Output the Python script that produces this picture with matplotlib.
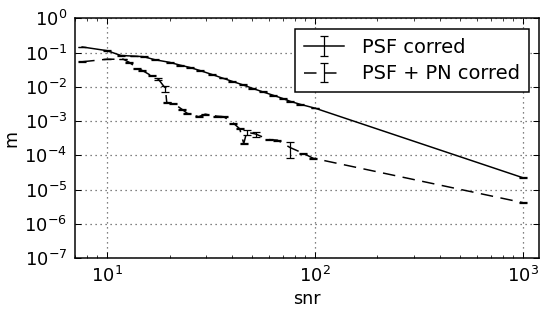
import numpy as np
import matplotlib
matplotlib.use('Agg')
import matplotlib.pyplot as plt

# values (log-log)
snr_psf = [7.6, 10, 11.7, 13.5, 15, 17, 20, 22.5, 25, 28, 32, 36, 40, 45, 50,
           56, 63, 70, 76, 85, 100, 1000]
m_psf = [0.146, 0.114, 0.082, 0.079, 0.076, 0.062, 0.052, 0.043, 0.037, 0.030,
         0.023, 0.018, 0.0145, 0.0115, 0.0091, 0.0072, 0.0057, 0.0046, 0.0038,
         0.0031, 0.0024, 2.24e-5]
err_psf = [0.003, 0.002, 0.002, 0.002, 0.002, 0.0015, 0.0012, 0.001, 0.0008, 0.0007,
           0.0005, 0.0004, 0.0003, 0.0003, 0.0004, 0.0002, 0.00015, 0.0001, 0.00015,
           0.00008, 0.00006, 0.7e-6]

snr_pn = [7.6, 10, 12, 12.8, 14, 14.8, 16.4, 17.7, 19.1, 19.4, 20.9, 23, 24.3,
          27.6, 29.7, 33.8, 36.4, 40.6, 43.5, 45.5, 47, 52, 60, 66, 76, 88, 98, 1000]
m_pn = [0.054, 0.064, 0.064, 0.052, 0.035, 0.030, 0.021, 0.0166, 0.0091, 0.0035,
        0.0033, 0.0022, 0.0017, 0.00135, 0.0016, 0.0014, 0.00135, 0.00087, 0.0006,
        0.00022, 0.00048, 0.00042, 0.00029, 0.00028, 0.00017, 0.000115, 0.000083, 4.2e-6]
err_pn = [0.001, 0.001, 0.001, 0.001, 0.001, 0.001, 0.0008, 0.0012, 0.0018, 0.0001,
          0.0001, 0.00008, 0.00006, 0.00004, 0.00005, 0.00004, 0.00004, 0.00004, 0.00002,
          0.00001, 0.00009, 0.00007, 0.00001, 0.00001, 0.000085, 0.000005, 0.000004, 0.15e-6]

plt.rcParams['font.family'] = 'DejaVu Sans'
plt.rcParams['mathtext.default'] = 'regular'
plt.rcParams['lines.scale_dashes'] = False

fig = plt.figure(figsize=(550 / 90, 316 / 90), dpi=90)
ax = fig.add_axes([74.7 / 550, 1 - 258.3 / 316, (539.3 - 74.7) / 550, (258.3 - 18.3) / 316])

ax.errorbar(snr_psf, m_psf, yerr=err_psf, color='k', ls='-', lw=1.2,
            capsize=3.5, elinewidth=1.0, label='PSF corred')
ax.errorbar(snr_pn, m_pn, yerr=err_pn, color='k', ls='--', dashes=(10, 6), lw=1.2,
            capsize=3.5, elinewidth=1.0, label='PSF + PN corred')

ax.set_xscale('log')
ax.set_yscale('log')
ax.set_xlim(7, 1200)
ax.set_ylim(1e-7, 1)
ax.set_yticks([10.0 ** k for k in range(-7, 1)])
ax.grid(True, which='major', color='0.35', ls=(0, (1, 3)), lw=1.0)
ax.tick_params(which='both', direction='in', top=True, right=True, labelsize=14.4)
ax.tick_params(which='major', length=5, pad=6)
ax.tick_params(which='minor', length=2.5)
for s in ax.spines.values():
    s.set_linewidth(1.2)

ax.set_xlabel('snr', fontsize=14, labelpad=3)
ax.set_ylabel('m', fontsize=14, labelpad=3)

leg = ax.legend(loc='upper right', numpoints=1, fontsize=15.5, fancybox=False,
                frameon=True, framealpha=1, edgecolor='k', borderaxespad=0.55,
                handlelength=2.1, handletextpad=0.9, borderpad=0.45, labelspacing=0.4)
leg.get_frame().set_linewidth(1.2)

fig.savefig('out.png', dpi=90, facecolor='white')
